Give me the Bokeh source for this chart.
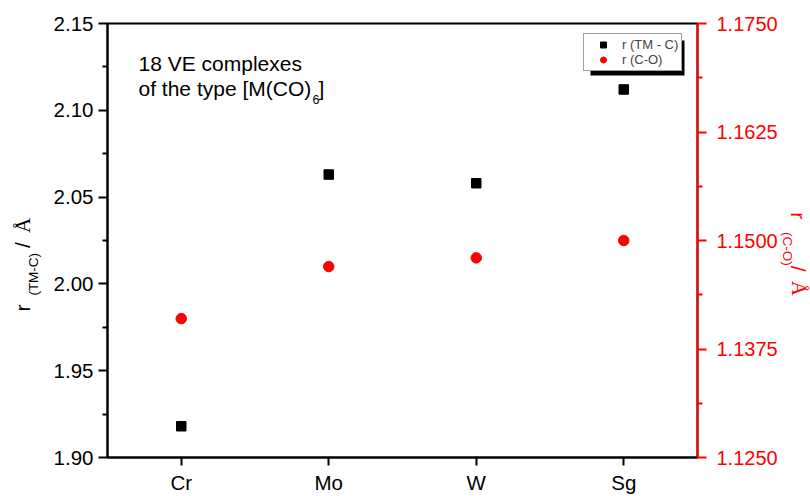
import math

from bokeh.embed import file_html
from bokeh.layouts import row
from bokeh.models import (BoxAnnotation, FactorRange, FixedTicker, Label, Legend,
                          LegendItem, LinearAxis, PrintfTickFormatter, Range1d)
from bokeh.plotting import figure
from bokeh.resources import INLINE

# Hexacarbonyl complexes of group 6 metals
metals = ["Cr", "Mo", "W", "Sg"]
r_tm_c = [1.918, 2.063, 2.058, 2.112]      # metal-carbon distance / Å
r_c_o = [1.1410, 1.1470, 1.1480, 1.1500]   # carbon-oxygen distance / Å

left_ticks = [1.90, 1.95, 2.00, 2.05, 2.10, 2.15]
right_ticks = [1.1250, 1.1375, 1.1500, 1.1625, 1.1750]

FONT = "Liberation Sans"
SERIF = "Liberation Serif"
RED = "#ff0000"

# page geometry (pixels)
W, H = 810, 496
LEFT_STRIP, RIGHT_STRIP = 45, 30       # side strips holding the axis titles
FRAME_L, FRAME_R, FRAME_T, FRAME_B = 107, 699, 23, 460
MAIN_W = W - LEFT_STRIP - RIGHT_STRIP


def midpoints(ticks):
    return [(a + b) / 2 for a, b in zip(ticks[:-1], ticks[1:])]


p = figure(width=MAIN_W, height=H,
           x_range=FactorRange(*metals, range_padding=0),
           y_range=Range1d(left_ticks[0], left_ticks[-1]),
           output_backend="svg", toolbar_location=None,
           min_border_left=FRAME_L - LEFT_STRIP,
           min_border_right=W - RIGHT_STRIP - FRAME_R,
           min_border_top=FRAME_T, min_border_bottom=H - FRAME_B)
p.grid.visible = False
p.outline_line_color = "black"
p.outline_line_width = 2
p.background_fill_color = "white"
p.border_fill_color = "white"

# bottom axis
xa = p.xaxis[0]
xa.axis_line_width = 2
xa.major_tick_line_width = 2
xa.major_tick_out = 8
xa.major_tick_in = 0
xa.major_label_standoff = 5
xa.major_label_text_font = FONT
xa.major_label_text_font_size = "20.5px"
xa.major_label_text_color = "black"

# left axis
ya = p.yaxis[0]
ya.ticker = FixedTicker(ticks=left_ticks, minor_ticks=midpoints(left_ticks))
ya.formatter = PrintfTickFormatter(format="%.2f")
ya.axis_line_width = 2
ya.major_tick_line_width = 2
ya.minor_tick_line_width = 2
ya.major_tick_out = 9
ya.major_tick_in = 0
ya.minor_tick_out = 5
ya.minor_tick_in = 0
ya.major_label_standoff = 5
ya.major_label_text_font = FONT
ya.major_label_text_font_size = "20.5px"
ya.major_label_text_color = "black"

# right axis for the C-O distance
p.extra_y_ranges = {"co": Range1d(right_ticks[0], right_ticks[-1])}
ra = LinearAxis(y_range_name="co",
                ticker=FixedTicker(ticks=right_ticks, minor_ticks=midpoints(right_ticks)),
                formatter=PrintfTickFormatter(format="%.4f"))
ra.axis_line_color = RED
ra.axis_line_width = 2
ra.major_tick_line_color = RED
ra.minor_tick_line_color = RED
ra.major_tick_line_width = 2
ra.minor_tick_line_width = 2
ra.major_tick_out = 9
ra.major_tick_in = 0
ra.minor_tick_out = 5
ra.minor_tick_in = 0
ra.major_label_standoff = 10
ra.major_label_text_font = FONT
ra.major_label_text_font_size = "20px"
ra.major_label_text_color = RED
p.add_layout(ra, "right")

sq = p.scatter(metals, r_tm_c, marker="square", size=9.5,
               fill_color="black", line_color="black")
ci = p.scatter(metals, r_c_o, y_range_name="co", marker="circle", size=10.5,
               fill_color=RED, line_color=RED)


def fx(sx):
    """canvas x -> frame-relative screen x"""
    return sx - FRAME_L


def fy(sy):
    """canvas y -> frame-relative screen y (measured up from the frame bottom)"""
    return FRAME_B - sy


# legend with a drop shadow
shadow = BoxAnnotation(left=fx(590), right=fx(684), top=fy(43), bottom=fy(78),
                       left_units="screen", right_units="screen",
                       top_units="screen", bottom_units="screen",
                       fill_color="black", fill_alpha=1, line_color=None)
p.add_layout(shadow)

legend = Legend(items=[LegendItem(label="r (TM - C)", renderers=[sq]),
                       LegendItem(label="r (C-O)", renderers=[ci])],
                location=(fx(583), fy(74)))
legend.background_fill_color = "white"
legend.background_fill_alpha = 1
legend.border_line_color = "#444444"
legend.border_line_width = 1
legend.padding = 3
legend.spacing = 0
legend.margin = 0
legend.glyph_width = 32
legend.glyph_height = 15
legend.label_height = 15
legend.label_standoff = 3
legend.label_text_font = FONT
legend.label_text_font_size = "13px"
p.add_layout(legend)


def note(sx, sy, text, size):
    p.add_layout(Label(x=fx(sx), y=fy(sy), x_units="screen", y_units="screen",
                       text=text, text_font=FONT, text_font_size=size,
                       text_color="black", text_align="left",
                       text_baseline="alphabetic"))


# annotation in the upper left
note(138, 66, "18 VE complexes", "21px")
note(138, 91, "of the type [M(CO)", "21px")
note(312, 102, "6", "12.5px")
note(318, 91, "]", "21px")


def title_strip(x0, width):
    """Blank strip whose frame lines up with the main plot's frame; its data
    coordinates equal canvas pixels."""
    s = figure(width=width, height=H, x_range=Range1d(x0, x0 + width),
               y_range=Range1d(FRAME_B, FRAME_T), x_axis_type=None, y_axis_type=None,
               output_backend="svg", toolbar_location=None,
               min_border_left=0, min_border_right=0,
               min_border_top=FRAME_T, min_border_bottom=H - FRAME_B)
    s.grid.visible = False
    s.outline_line_color = None
    s.background_fill_color = "white"
    s.border_fill_color = "white"
    return s


def put(strip, sx, sy, text, size, color, angle, font=FONT):
    strip.add_layout(Label(x=sx, y=sy, text=text, text_font=font,
                           text_font_size=size, text_color=color,
                           text_align="left", text_baseline="alphabetic",
                           angle=angle))


# left axis title: r_(TM-C) / Å
left = title_strip(0, LEFT_STRIP)
up = math.pi / 2
put(left, 22, 313, "r", "21px", "black", up)
put(left, 33, 297, "(TM-C)", "13.5px", "black", up)
put(left, 22, 249, "/", "21px", "black", up)
put(left, 22, 234, "Å", "21px", "black", up, SERIF)

# right axis title: r_(C-O) / Å
right = title_strip(W - RIGHT_STRIP, RIGHT_STRIP)
down = -math.pi / 2
put(right, 798, 213, "r", "21px", RED, down)
put(right, 787, 233, "(C-O)", "13.5px", RED, down)
put(right, 798, 267, "/", "21px", RED, down)
put(right, 798, 282, "Å", "21px", RED, down, SERIF)

layout = row(left, p, right, spacing=0)
open("out.html", "w").write(file_html(layout, INLINE))
